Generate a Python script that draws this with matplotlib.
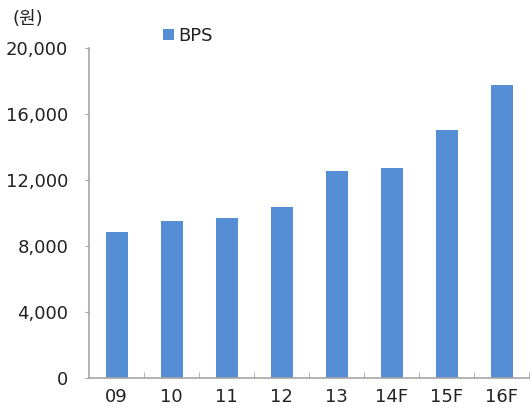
import matplotlib
matplotlib.use("Agg")
import matplotlib.pyplot as plt

plt.rcParams['font.family'] = ['DejaVu Sans', 'Noto Sans CJK KR']

# data
years = ['09', '10', '11', '12', '13', '14F', '15F', '16F']
bps = [8850, 9500, 9700, 10400, 12550, 12750, 15050, 17750]
yticks = [0, 4000, 8000, 12000, 16000, 20000]

BAR = '#558ed5'
GREY = '#a6a6a6'
TXT = '#222222'
FS = 13

fig = plt.figure(figsize=(5.32, 4.12), dpi=100)
ax = fig.add_axes([89 / 532, 1 - 378.3 / 412, 440 / 532, 330.3 / 412])

x = range(len(years))
ax.bar(x, bps, width=0.4, color=BAR, label='BPS', zorder=2)

ax.set_xlim(-0.5, len(years) - 0.5)
ax.set_ylim(0, 20000)
ax.set_yticks(yticks)
ax.set_yticklabels(['{:,}'.format(v) for v in yticks], fontsize=FS, color=TXT)
ax.set_xticks(list(x))
ax.set_xticklabels(years, fontsize=FS, color=TXT)

# little ticks between categories on the x axis
ax.set_xticks([i + 0.5 for i in range(len(years))], minor=True)
ax.tick_params(axis='x', which='major', length=0, pad=7)
ax.tick_params(axis='x', which='minor', direction='in', length=4, color=GREY)
ax.tick_params(axis='y', direction='out', length=3, color=GREY, pad=12)

for s in ['top', 'right']:
    ax.spines[s].set_visible(False)
for s in ['left', 'bottom']:
    ax.spines[s].set_color(GREY)
    ax.spines[s].set_linewidth(1.2)

leg = ax.legend(loc='center left', bbox_to_anchor=(163 / 532, 1 - 36 / 412),
                bbox_transform=fig.transFigure, frameon=False, fontsize=FS,
                handlelength=0.6, handleheight=0.6, handletextpad=0.25,
                borderpad=0, borderaxespad=0)
for t in leg.get_texts():
    t.set_color(TXT)

fig.text(12 / 532, 1 - 19 / 412, '(원)', fontsize=FS, color=TXT,
         va='center', ha='left')

fig.savefig('out.png', dpi=100)
